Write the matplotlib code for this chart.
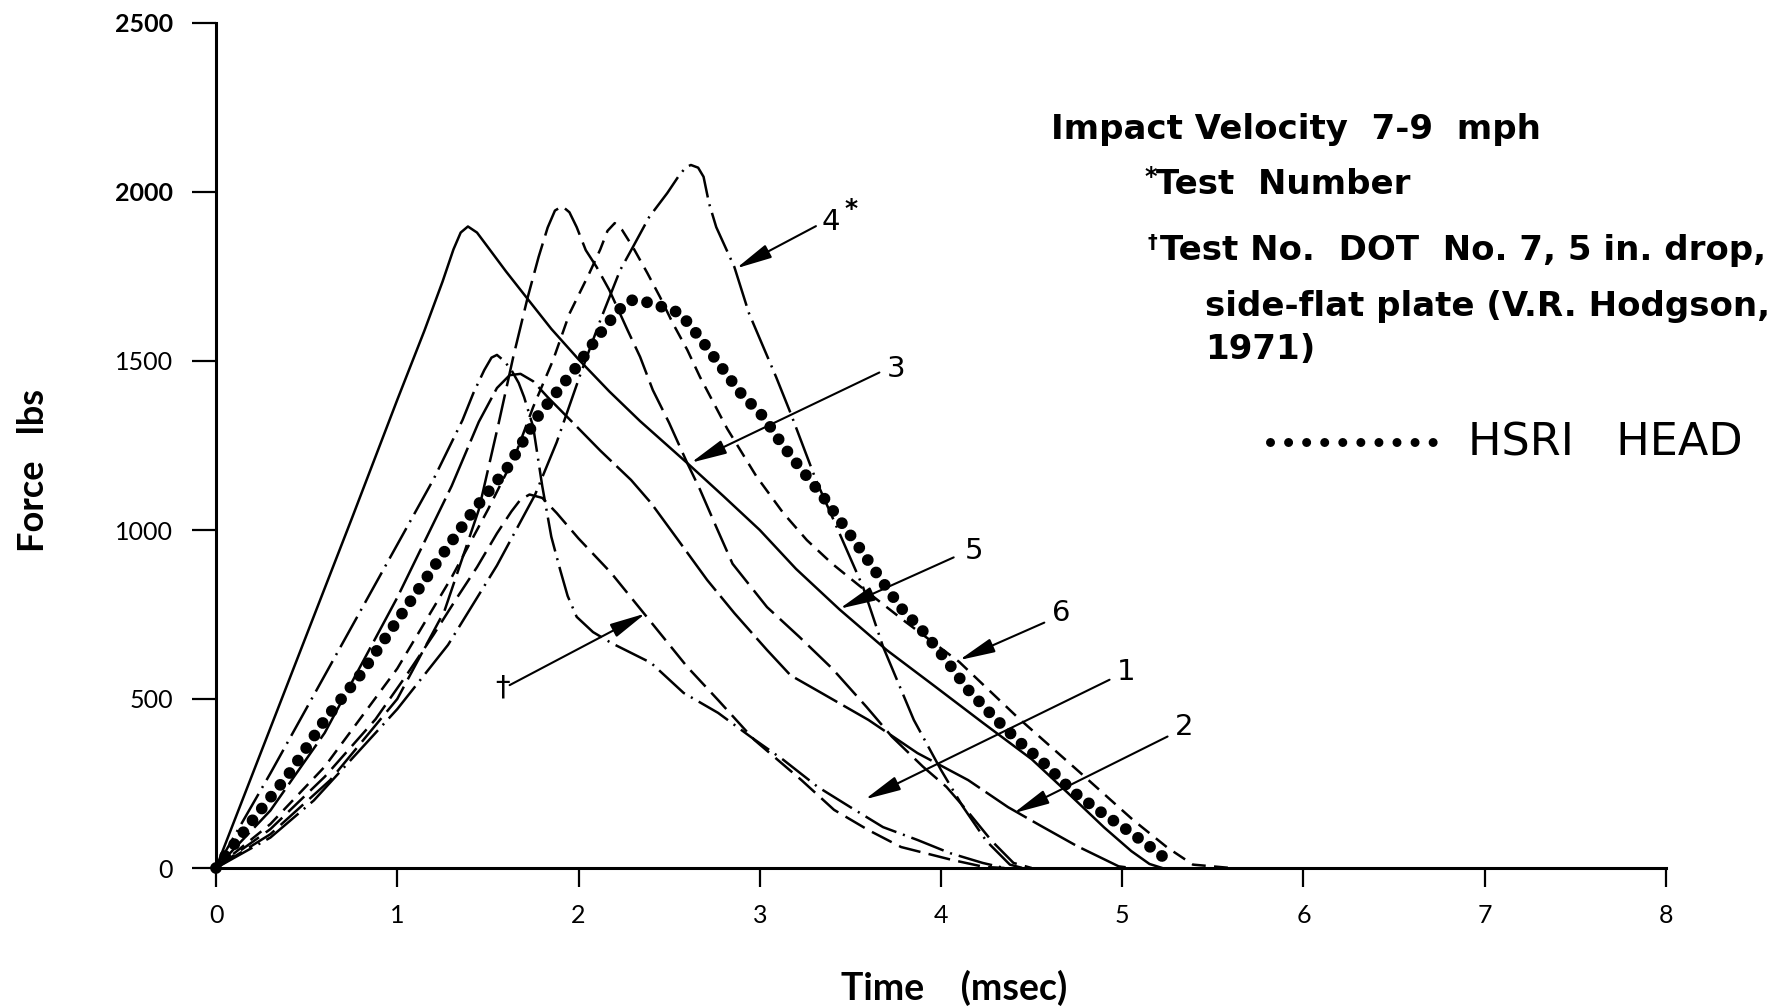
import matplotlib
matplotlib.use("Agg")
import matplotlib.pyplot as plt

plt.rcParams['font.family'] = ['Lato', 'DejaVu Sans']
plt.rcParams['lines.scale_dashes'] = False

# --- force (lbs) vs time (msec) ---
# test 5, solid
t5 = [0, 0.25, 0.5, 0.75, 1.0, 1.15, 1.25, 1.31, 1.35, 1.39, 1.44, 1.5, 1.6, 1.71, 1.85, 2.0,
      2.17, 2.34, 2.6, 2.8, 3.0, 3.2, 3.44, 3.7, 3.96, 4.23, 4.5, 4.7, 4.9, 5.05, 5.15, 5.22]
f5 = [0, 345, 690, 1035, 1385, 1590, 1735, 1830, 1880, 1898, 1880, 1837, 1765, 1690, 1595, 1505,
      1410, 1322, 1198, 1100, 1000, 885, 765, 645, 540, 430, 322, 222, 120, 50, 12, 0]

# test 3, long dash
t3 = [0, 0.3, 0.63, 1.0, 1.26, 1.45, 1.56, 1.64, 1.72, 1.78, 1.83, 1.87, 1.91, 1.95, 1.99, 2.04,
      2.10, 2.17, 2.27, 2.34, 2.41, 2.50, 2.60, 2.67, 2.76, 2.85, 3.04, 3.22, 3.40, 3.59, 3.73, 3.9,
      4.03, 4.14, 4.28, 4.4, 4.5]
f3 = [0, 100, 260, 500, 760, 1060, 1317, 1512, 1689, 1808, 1895, 1945, 1958, 1940, 1896, 1828,
      1778, 1710, 1592, 1512, 1414, 1317, 1198, 1120, 1009, 900, 772, 683, 590, 476, 388, 300,
      240, 172, 80, 15, 0]

# test 4, dash-dot
t4 = [0, 0.3, 0.54, 1.0, 1.28, 1.55, 1.76, 1.88, 2.01, 2.12, 2.23, 2.30, 2.39, 2.49, 2.55, 2.59,
      2.62, 2.66, 2.69, 2.72, 2.76, 2.86, 2.94, 3.02, 3.09, 3.17, 3.31, 3.44, 3.57, 3.68, 3.85, 4.0,
      4.12, 4.25, 4.38, 4.45]
f4 = [0, 90, 200, 470, 660, 895, 1104, 1260, 1460, 1620, 1769, 1837, 1926, 1997, 2045, 2072,
      2080, 2072, 2045, 1967, 1896, 1778, 1642, 1541, 1453, 1346, 1148, 990, 831, 655, 438, 290,
      182, 80, 10, 0]

# test 6, dashed
t6 = [0, 0.3, 0.6, 1.0, 1.3, 1.5, 1.65, 1.75, 1.86, 1.95, 2.06, 2.12, 2.16, 2.20, 2.24, 2.30,
      2.38, 2.45, 2.52, 2.60, 2.67, 2.82, 2.98, 3.13, 3.26, 3.40, 3.55, 3.8, 4.10, 4.42, 4.77, 5.06,
      5.25, 5.39, 5.6]
f6 = [0, 130, 300, 590, 860, 1060, 1220, 1364, 1503, 1640, 1760, 1830, 1885, 1908, 1888, 1837,
      1760, 1689, 1612, 1533, 1453, 1300, 1160, 1050, 970, 900, 835, 730, 610, 447, 281, 142,
      60, 10, 0]

# test 1, long dash - dot, sharp drop after peak
t1 = [0, 0.3, 0.6, 0.9, 1.2, 1.36, 1.42, 1.48, 1.52, 1.55, 1.59, 1.63, 1.67, 1.70, 1.75, 1.80,
      1.85, 1.90, 1.94, 1.99, 2.08, 2.18, 2.40, 2.58, 2.77, 2.95, 3.13, 3.32, 3.50, 3.68, 3.87,
      4.05, 4.23, 4.35]
f1 = [0, 280, 570, 860, 1150, 1325, 1405, 1473, 1510, 1518, 1500, 1473, 1435, 1393, 1305, 1130,
      980, 880, 805, 743, 698, 666, 607, 518, 459, 388, 320, 240, 180, 121, 83,
      44, 15, 0]

# test 2, long dash
t2 = [0, 0.3, 0.6, 1.0, 1.3, 1.45, 1.55, 1.62, 1.68, 1.75, 1.83, 1.97, 2.12, 2.29, 2.40, 2.55,
      2.71, 2.86, 3.04, 3.17, 3.34, 3.60, 3.87, 4.15, 4.37, 4.55, 4.75, 4.98, 5.05]
f2 = [0, 170, 400, 800, 1130, 1320, 1420, 1458, 1462, 1440, 1393, 1317, 1235, 1148, 1080, 970,
      852, 754, 645, 570, 518, 438, 340, 260, 180, 125, 65, 5, 0]

# DOT No. 7 (dagger), dashed
td = [0, 0.3, 0.6, 0.88, 1.05, 1.2, 1.33, 1.44, 1.55, 1.63, 1.68, 1.73, 1.80, 1.88, 2.0, 2.18,
      2.36, 2.60, 2.77, 2.97, 3.23, 3.41, 3.60, 3.78, 4.06, 4.24, 4.35]
fd = [0, 115, 270, 440, 570, 690, 800, 890, 990, 1055, 1090, 1105, 1095, 1050, 975, 873,
      754, 595, 497, 379, 260, 172, 112, 62, 24, 3, 0]

# HSRI head, big dots
th = [0, 0.2, 0.41, 0.6, 0.8, 1.01, 1.22, 1.41, 1.61, 1.78, 1.98, 2.13, 2.22, 2.29, 2.37, 2.45,
      2.56, 2.67, 2.78, 2.89, 3.02, 3.13, 3.24, 3.35, 3.46, 3.57, 3.67, 3.78, 3.91, 4.04, 4.15,
      4.29, 4.42, 4.56, 4.73, 4.88, 5.05, 5.20, 5.28]
fh = [0, 140, 284, 438, 574, 740, 905, 1050, 1186, 1340, 1476, 1589, 1650, 1680, 1675, 1662,
      1642, 1568, 1488, 1408, 1335, 1248, 1172, 1098, 1015, 932, 852, 769, 695, 607, 527,
      447, 379, 314, 225, 166, 104, 44, 9]

# arrow call-outs: label, arrow tip, arrow start, label position
callouts = [
    ("4", (2.87, 1774), (3.31, 1899), (3.34, 1912)),
    ("3", (2.62, 1199), (3.66, 1466), (3.70, 1476)),
    ("5", (3.44, 767), (4.07, 919), (4.13, 939)),
    ("6", (4.10, 615), (4.57, 726), (4.61, 753)),
    ("1", (3.58, 203), (4.93, 557), (4.97, 581)),
    ("2", (4.40, 162), (5.25, 389), (5.29, 416)),
    ("\u2020", (2.37, 753), (1.62, 541), (1.54, 535)),
]

xticks = [0, 1, 2, 3, 4, 5, 6, 7, 8]
yticks = [0, 500, 1000, 1500, 2000, 2500]

fig = plt.figure(figsize=(17.91, 10.08), dpi=100)
ax = fig.add_axes([216 / 1791, 140 / 1008, 1450 / 1791, 845 / 1008])

lw = 1.8
ax.plot(t5, f5, color='black', lw=lw, clip_on=False)
ax.plot(t3, f3, color='black', lw=lw, ls=(0, (22, 6)), clip_on=False)
ax.plot(t4, f4, color='black', lw=lw, ls=(0, (30, 5, 1.5, 5)), clip_on=False)
ax.plot(t6, f6, color='black', lw=lw, ls=(0, (10, 6)), clip_on=False)
ax.plot(t1, f1, color='black', lw=lw, ls=(0, (25, 5, 1.5, 5)), clip_on=False)
ax.plot(t2, f2, color='black', lw=lw, ls=(0, (35, 5)), clip_on=False)
ax.plot(td, fd, color='black', lw=lw, ls=(0, (16, 6)), clip_on=False)
ax.plot(th, fh, color='black', lw=8.5, ls=(0, (0.01, 10.8)),
        dash_capstyle='round', clip_on=False)

for lab, tip, start, pos in callouts:
    ax.annotate('', xy=tip, xytext=start,
                arrowprops=dict(arrowstyle='-|>,head_length=1.1,head_width=0.22',
                                mutation_scale=20, lw=1.5, color='black',
                                shrinkA=0, shrinkB=0))
    ax.text(pos[0], pos[1], lab, fontsize=21, ha='left', va='center',
            family=['DejaVu Sans'])
ax.text(3.47, 1950, "*", fontsize=18, ha='left', va='center', family=['DejaVu Sans'],
        fontweight='bold')

ax.set_xlim(0, 8)
ax.set_ylim(0, 2500)
ax.set_xticks(xticks)
ax.set_yticks(yticks)
for s in ['top', 'right']:
    ax.spines[s].set_visible(False)
for s in ['left', 'bottom']:
    ax.spines[s].set_linewidth(2.2)
ax.tick_params(axis='y', direction='out', length=17, width=1.6, pad=14, labelsize=18)
ax.tick_params(axis='x', direction='out', length=14, width=1.6, pad=12, labelsize=18)
for lbl in ax.get_yticklabels()[-2:]:
    lbl.set_fontweight('bold')

fig.text(34 / 1791, 1 - 471 / 1008, "Force   lbs", rotation=90, ha='center', va='center',
         fontsize=26, fontweight='bold')
fig.text(954 / 1791, 1 - 988 / 1008, "Time    (msec)", ha='center', va='center',
         fontsize=27, fontweight='bold')

# notes in the upper right
hf = ['DejaVu Sans']
fs = 24.5
fig.text(1051 / 1791, 1 - 139 / 1008, "Impact Velocity  7-9  mph", fontsize=fs,
         va='baseline', family=hf, fontweight='bold')
fig.text(1144 / 1791, 1 - 184 / 1008, "*", fontsize=17, va='baseline', family=hf,
         fontweight='bold')
fig.text(1156 / 1791, 1 - 194 / 1008, "Test  Number", fontsize=fs, va='baseline', family=hf,
         fontweight='bold')
fig.text(1148 / 1791, 1 - 248 / 1008, "\u2020", fontsize=14, va='baseline', family=hf,
         fontweight='bold')
fig.text(1160 / 1791, 1 - 260 / 1008, "Test No.  DOT  No. 7, 5 in. drop,", fontsize=fs,
         va='baseline', family=hf, fontweight='bold')
fig.text(1205 / 1791, 1 - 316 / 1008, "side-flat plate (V.R. Hodgson,", fontsize=fs,
         va='baseline', family=hf, fontweight='bold')
fig.text(1205 / 1791, 1 - 359 / 1008, "1971)", fontsize=fs, va='baseline', family=hf,
         fontweight='bold')

fig.add_artist(plt.Line2D([1270 / 1791, 1433 / 1791], [1 - 442 / 1008, 1 - 442 / 1008],
                          transform=fig.transFigure, color='black', lw=6.5,
                          ls=(0, (0.01, 13.0)), dash_capstyle='round'))
fig.text(1468 / 1791, 1 - 456 / 1008, "HSRI   HEAD", fontsize=32, va='baseline', family=hf)

fig.savefig("out.png", dpi=100)
